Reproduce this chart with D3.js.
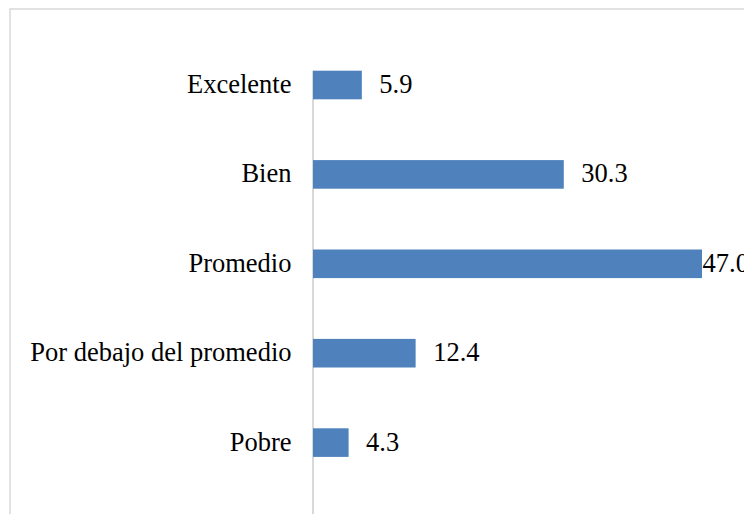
<!DOCTYPE html>
<html>
<head>
<meta charset="utf-8">
<script src="https://cdn.jsdelivr.net/npm/d3@7"></script>
<style>
  body { margin: 0; background: #fff; }
  #chart { width: 744px; height: 514px; overflow: hidden; }
</style>
</head>
<body>
<div id="chart"></div>
<script>
// categories and values
const categories = ["Excelente", "Bien", "Promedio", "Por debajo del promedio", "Pobre"];
const values = [5.9, 30.3, 47.0, 12.4, 4.3];

const width = 744;
const height = 514;
const fontFamily = "'Liberation Serif', 'Times New Roman', Tinos, 'DejaVu Serif', serif";

const svg = d3.select("#chart")
    .append("svg")
    .attr("width", width)
    .attr("height", height);

// chart area border (cropped on right and bottom)
svg.append("rect")
    .attr("x", 10)
    .attr("y", 9)
    .attr("width", width + 20)
    .attr("height", height + 20)
    .attr("fill", "none")
    .attr("stroke", "#d9d9d9")
    .attr("stroke-width", 1.5);

const xScale = d3.scaleLinear()
    .domain([0, 47])
    .range([313, 702]);

const yScale = d3.scaleBand()
    .domain(categories)
    .range([40.3, 487.3])
    .paddingInner(0.68)
    .paddingOuter(0.34);

// vertical axis line
svg.append("line")
    .attr("x1", xScale(0))
    .attr("x2", xScale(0))
    .attr("y1", yScale(categories[0]))
    .attr("y2", height + 10)
    .attr("stroke", "#d9d9d9")
    .attr("stroke-width", 2);

svg.selectAll("rect.bar")
    .data(values)
    .enter()
    .append("rect")
    .attr("class", "bar")
    .attr("x", xScale(0))
    .attr("y", function(d, i) { return yScale(categories[i]); })
    .attr("width", function(d) { return xScale(d) - xScale(0); })
    .attr("height", yScale.bandwidth())
    .attr("fill", "#4f81bd");

// category labels
svg.selectAll("text.cat")
    .data(categories)
    .enter()
    .append("text")
    .attr("class", "cat")
    .attr("x", 291.5)
    .attr("y", function(d) { return yScale(d) + yScale.bandwidth() / 2 + 8; })
    .attr("text-anchor", "end")
    .attr("font-family", fontFamily)
    .attr("font-size", 26.5)
    .attr("fill", "#000")
    .text(function(d) { return d; });

// value labels
svg.selectAll("text.val")
    .data(values)
    .enter()
    .append("text")
    .attr("class", "val")
    .attr("x", function(d) { return Math.min(xScale(d) + 17.5, xScale.range()[1] + 0.5); })
    .attr("y", function(d, i) { return yScale(categories[i]) + yScale.bandwidth() / 2 + 8; })
    .attr("font-family", fontFamily)
    .attr("font-size", 26.5)
    .attr("fill", "#000")
    .text(function(d) { return d.toFixed(1); });
</script>
</body>
</html>
